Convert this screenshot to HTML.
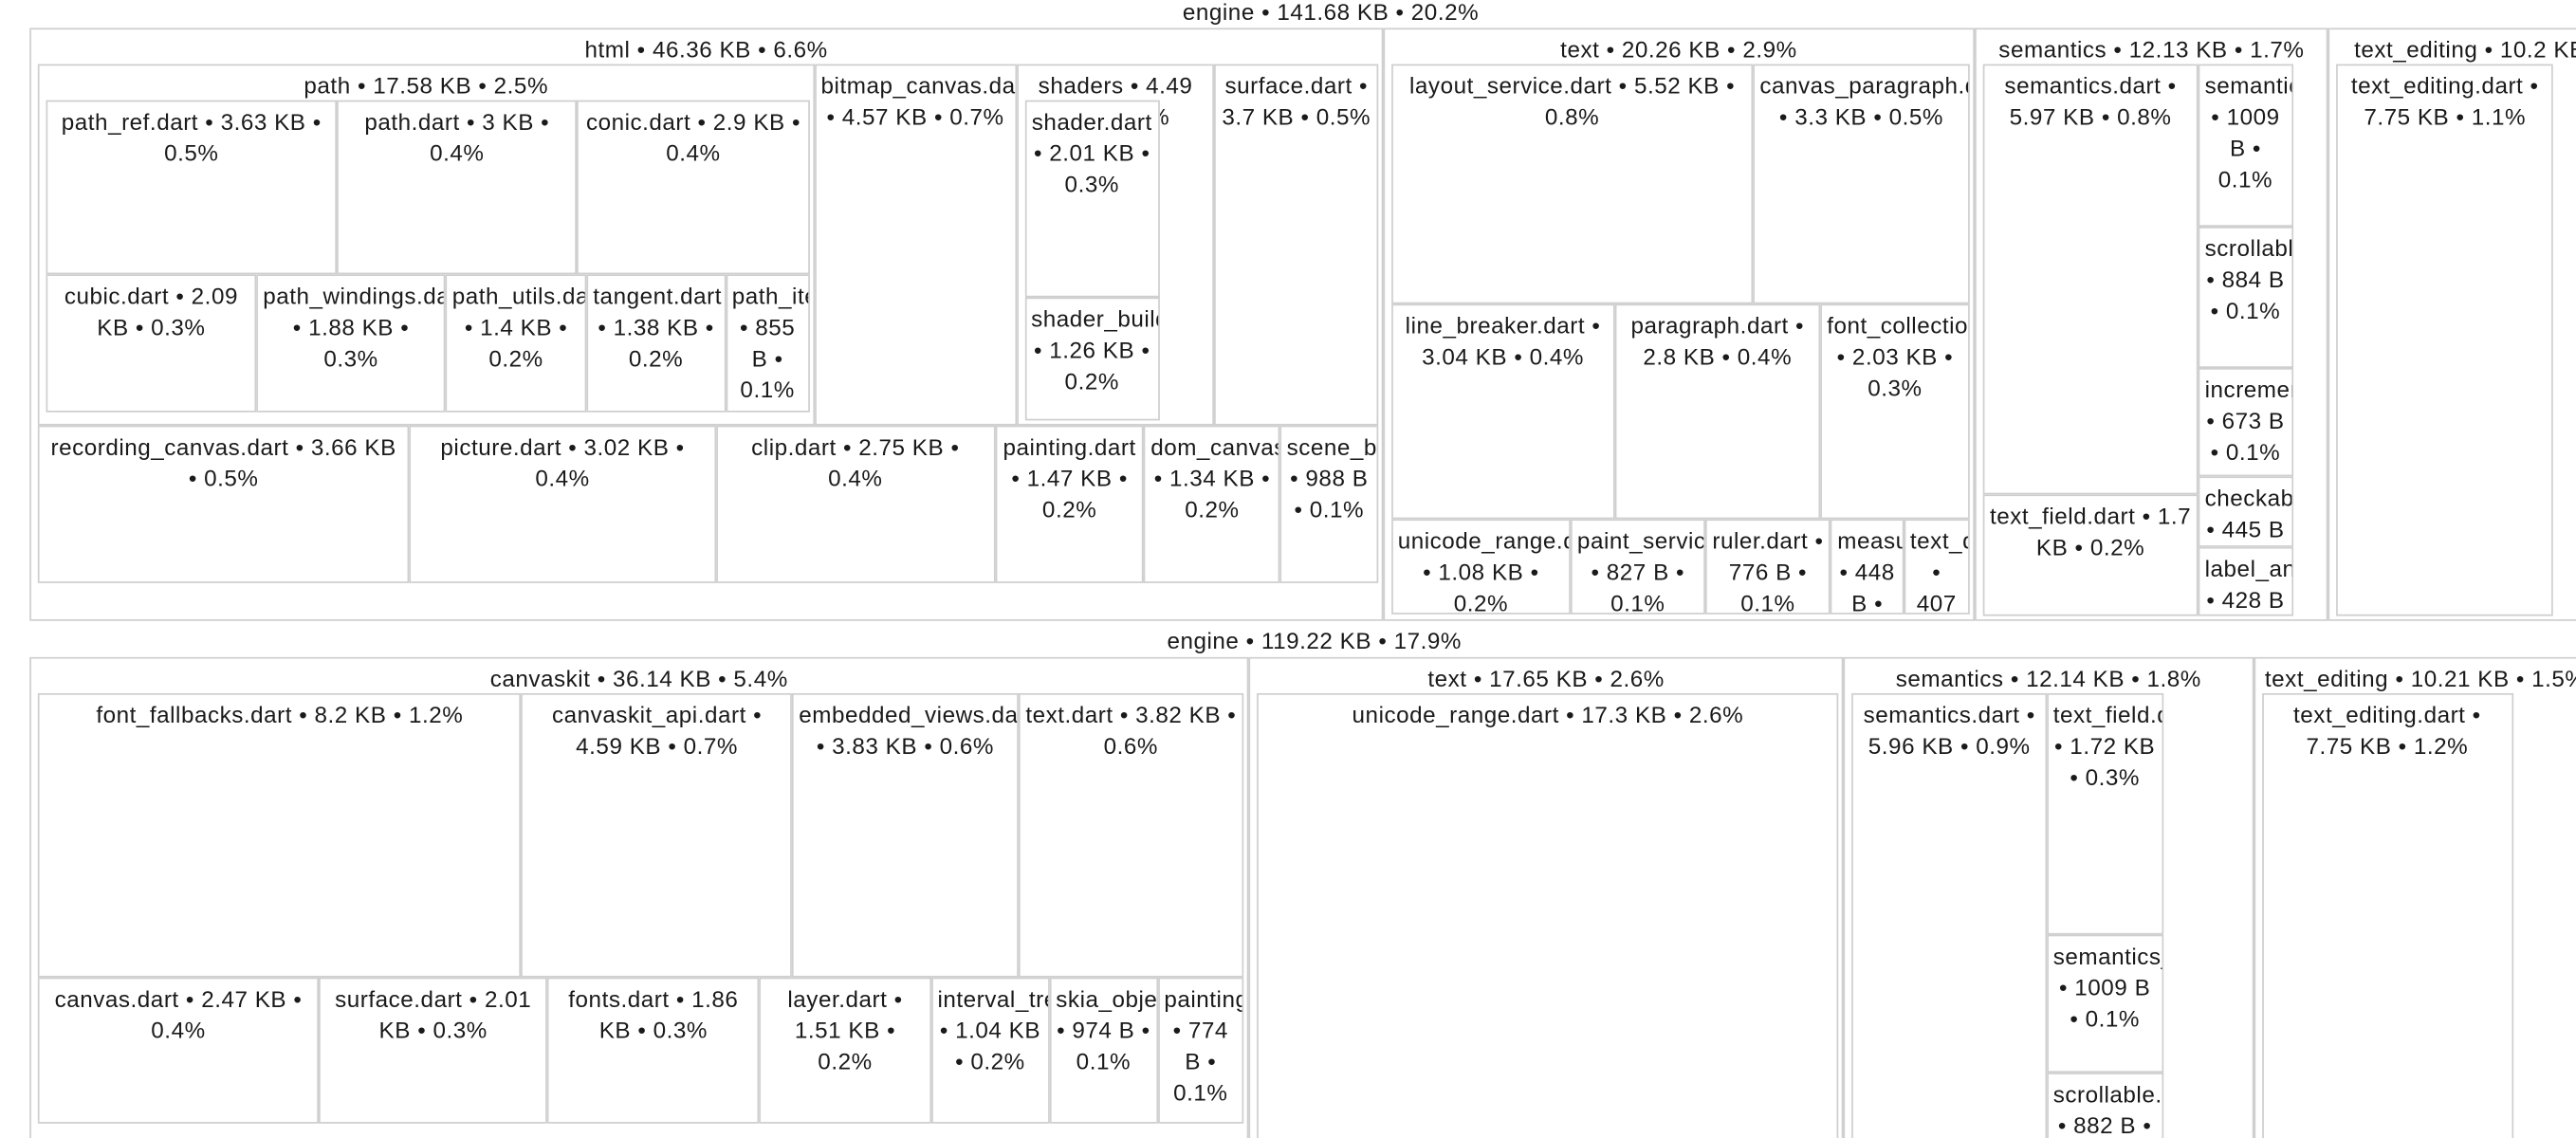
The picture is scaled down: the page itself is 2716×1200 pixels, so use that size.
<!DOCTYPE html>
<html><head><meta charset="utf-8">
<style>
html,body{margin:0;padding:0;background:#fff;overflow:hidden;width:2716px;height:1200px}
#stage{position:absolute;left:0;top:0;width:2716px;height:1200px;overflow:hidden;background:#fff}
#wrap{position:absolute;left:0;top:0;width:1568px;height:693px;overflow:hidden;transform-origin:0 0;transform:scale(1.73214)}
.box{position:absolute;box-sizing:border-box;border:1px solid #cfcfcf;background:#fff;overflow:hidden;
 font-family:"Liberation Sans",Arial,sans-serif;font-size:14px;letter-spacing:0.3px;line-height:19px;color:#1a1a1a;text-align:center;padding:3px 3px 0 3px}
.root{position:absolute;font-family:"Liberation Sans",Arial,sans-serif;font-size:14px;letter-spacing:0.3px;line-height:19px;color:#1a1a1a;white-space:nowrap;transform:translateX(-50%)}
</style></head>
<body>
<div id="stage"><div id="wrap"></div></div>
<script>
// ---- data ----
function N(name, sizeText, pct, kb, dir, strips){ return {name, sizeText, pct, kb, dir, strips}; }
const pathRow1 = [N("path_ref.dart","3.63 KB","0.5%",3.63), N("path.dart","3 KB","0.4%",3), N("conic.dart","2.9 KB","0.4%",2.9)];
const pathRow2 = [N("cubic.dart","2.09 KB","0.3%",2.09), N("path_windings.dart","1.88 KB","0.3%",1.88), N("path_utils.dart","1.4 KB","0.2%",1.4), N("tangent.dart","1.38 KB","0.2%",1.38), N("path_iterator.dart","855 B","0.1%",0.835)];
const shaderCol = [N("shader.dart","2.01 KB","0.3%",2.01), N("shader_builder.dart","1.26 KB","0.2%",1.26)];
const htmlRow1 = [N("path","17.58 KB","2.5%",17.58,"v",[pathRow1,pathRow2]), N("bitmap_canvas.dart","4.57 KB","0.7%",4.57), N("shaders","4.49 KB","0.6%",4.49,"h",[shaderCol]), N("surface.dart","3.7 KB","0.5%",3.7)];
const htmlRow2 = [N("recording_canvas.dart","3.66 KB","0.5%",3.66), N("picture.dart","3.02 KB","0.4%",3.02), N("clip.dart","2.75 KB","0.4%",2.75), N("painting.dart","1.47 KB","0.2%",1.47), N("dom_canvas.dart","1.34 KB","0.2%",1.34), N("scene_builder.dart","988 B","0.1%",0.965)];
const textRow1 = [N("layout_service.dart","5.52 KB","0.8%",5.52), N("canvas_paragraph.dart","3.3 KB","0.5%",3.3)];
const textRow2 = [N("line_breaker.dart","3.04 KB","0.4%",3.04), N("paragraph.dart","2.8 KB","0.4%",2.8), N("font_collection.dart","2.03 KB","0.3%",2.03)];
const textRow3 = [N("unicode_range.dart","1.08 KB","0.2%",1.08), N("paint_service.dart","827 B","0.1%",0.808), N("ruler.dart","776 B","0.1%",0.758), N("measurement.dart","448 B","0.1%",0.4375), N("text_direction.dart","407 B","0.1%",0.397)];
const semCol1 = [N("semantics.dart","5.97 KB","0.8%",5.97), N("text_field.dart","1.7 KB","0.2%",1.7)];
const semCol2 = [N("semantics_helper.dart","1009 B","0.1%",0.985), N("scrollable.dart","884 B","0.1%",0.863), N("incrementable.dart","673 B","0.1%",0.657), N("checkable.dart","445 B","0.1%",0.435), N("label_and_value.dart","428 B","0.1%",0.418)];
const topChildren = [
  N("html","46.36 KB","6.6%",46.36,"v",[htmlRow1,htmlRow2]),
  N("text","20.26 KB","2.9%",20.26,"v",[textRow1,textRow2,textRow3]),
  N("semantics","12.13 KB","1.7%",12.13,"h",[semCol1,semCol2]),
  N("text_editing","10.2 KB","1.5%",10.2,"h",[[N("text_editing.dart","7.75 KB","1.1%",7.75)]])
];
const ckRow1 = [N("font_fallbacks.dart","8.2 KB","1.2%",8.2), N("canvaskit_api.dart","4.59 KB","0.7%",4.59), N("embedded_views.dart","3.83 KB","0.6%",3.83), N("text.dart","3.82 KB","0.6%",3.82)];
const ckRow2 = [N("canvas.dart","2.47 KB","0.4%",2.47), N("surface.dart","2.01 KB","0.3%",2.01), N("fonts.dart","1.86 KB","0.3%",1.86), N("layer.dart","1.51 KB","0.2%",1.51), N("interval_tree.dart","1.04 KB","0.2%",1.04), N("skia_object_cache.dart","974 B","0.1%",0.951), N("painting.dart","774 B","0.1%",0.756)];
const bSemCol2 = [N("text_field.dart","1.72 KB","0.3%",1.72), N("semantics_helper.dart","1009 B","0.1%",0.985), N("scrollable.dart","882 B","0.1%",0.861)];
const bottomChildren = [
  N("canvaskit","36.14 KB","5.4%",36.14,"v",[ckRow1,ckRow2]),
  N("text","17.65 KB","2.6%",17.65,"v",[[N("unicode_range.dart","17.3 KB","2.6%",17.3)]]),
  N("semantics","12.14 KB","1.8%",12.14,"h",[[N("semantics.dart","5.96 KB","0.9%",5.96)],bSemCol2]),
  N("text_editing","10.21 KB","1.5%",10.21,"h",[[N("text_editing.dart","7.75 KB","1.2%",7.75)]])
];
const rootLabels = ["engine • 141.68 KB • 20.2%", "engine • 119.22 KB • 17.9%"];

// ---- layout ----
const wrap = document.getElementById('wrap');
function slug(s){ return s.replace(/\.dart$/,'').replace(/_/g,'-').toLowerCase(); }
function draw(node, x, y, w, h){
  const d = document.createElement('div');
  d.className = 'box';
  d.style.left = x+'px'; d.style.top = y+'px'; d.style.width = w+'px'; d.style.height = h+'px';
  d.textContent = node.name + ' • ' + node.sizeText + ' • ' + node.pct;
  
  
  wrap.appendChild(d);
  if(!node.strips) return;
  const ix = x+5, iy = y+22, iw = w-8, ih = h-25;
  let cur = 0;
  node.strips.forEach(strip => {
    const sum = strip.reduce((a,c)=>a+c.kb,0);
    if(node.dir === 'v'){
      const th = sum/node.kb*ih; let cx = 0;
      strip.forEach(c => { const cw = c.kb/sum*iw; draw(c, ix+cx, iy+cur, cw, th); cx += cw; });
      cur += th;
    } else {
      const th = sum/node.kb*iw; let cy = 0;
      strip.forEach(c => { const ch = c.kb/sum*ih; draw(c, ix+cur, iy+cy, th, ch); cy += ch; });
      cur += th;
    }
  });
}
function drawRoot(children, label, labelX, labelY, x0, y0, h, pxPerKB){
  const l = document.createElement('div');
  l.className = 'root';
  l.style.left = labelX+'px'; l.style.top = labelY+'px';
  l.textContent = label;
  
  
  wrap.appendChild(l);
  let cx = x0;
  children.forEach(c => { const w = c.kb*pxPerKB; draw(c, cx, y0, w, h); cx += w; });
}
drawRoot(topChildren, rootLabels[0], 810, -2, 18, 17, 361, 17.77);
drawRoot(bottomChildren, rootLabels[1], 800, 381, 18, 400, 330, 20.53);
</script>
</body></html>
